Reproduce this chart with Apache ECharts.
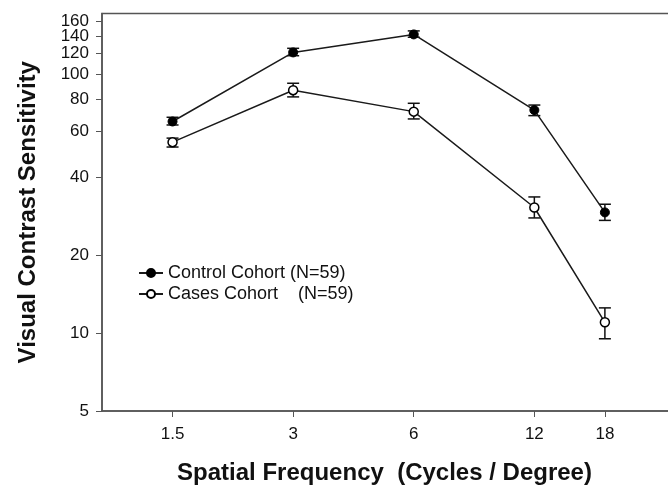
<!DOCTYPE html>
<html>
<head>
<meta charset="utf-8">
<script src="https://cdn.jsdelivr.net/npm/echarts@6/dist/echarts.min.js"></script>
<style>
  html, body { margin: 0; padding: 0; background: #fff; }
  #main { width: 668px; height: 485px; }
</style>
</head>
<body>
<div id="main"></div>
<script>
// data
const freqs = [1.5, 3, 6, 12, 18];
const controlMean = [65.5, 121, 142, 72.5, 29.2];
const controlLow = [63.5, 117.5, 138.5, 69, 27.2];
const controlHigh = [68, 125.5, 146.5, 75.8, 31.4];
const casesMean = [54.5, 86.5, 71.5, 30.5, 11];
const casesLow = [52.2, 81.5, 67, 27.8, 9.5];
const casesHigh = [56.5, 92, 77, 33.5, 12.5];
const yTicks = [5, 10, 20, 40, 60, 80, 100, 120, 140, 160];
const controlName = 'Control Cohort (N=59)';
const casesName = 'Cases Cohort    (N=59)';

const font = 'Liberation Sans, Arial, sans-serif';
const chart = echarts.init(document.getElementById('main'));

function pairs(xs, ys) {
  return xs.map((x, i) => [x, ys[i]]);
}

function errData(lo, hi) {
  return freqs.map((x, i) => [x, lo[i], hi[i]]);
}

// vertical error bar with caps
function renderErr(params, api) {
  const x = api.value(0);
  const lo = api.coord([x, api.value(1)]);
  const hi = api.coord([x, api.value(2)]);
  const half = 6;
  const st = { stroke: '#111', lineWidth: 1.5 };
  return {
    type: 'group',
    children: [
      { type: 'line', shape: { x1: lo[0], y1: lo[1], x2: hi[0], y2: hi[1] }, style: st },
      { type: 'line', shape: { x1: lo[0] - half, y1: lo[1], x2: lo[0] + half, y2: lo[1] }, style: st },
      { type: 'line', shape: { x1: hi[0] - half, y1: hi[1], x2: hi[0] + half, y2: hi[1] }, style: st }
    ]
  };
}

const round = v => String(+(+v).toPrecision(6));

// top labels sit closer than their height, so they are split over two
// identical axes to keep echarts from dropping one as an overlap
const yLabelsA = yTicks.filter((v, i) => i % 2 === 0);
const yLabelsB = yTicks.filter((v, i) => i % 2 === 1);

const yLabelStyle = {
  margin: 13, fontFamily: font, fontSize: 17, color: '#111',
  formatter: round, hideOverlap: false, showMaxLabel: true, showMinLabel: true
};

const option = {
  backgroundColor: '#fff',
  animation: false,
  grid: {
    // the plot runs past the right edge of the picture, like the cropped original
    left: 102, top: 13.5, bottom: 74, width: 603,
    outerBoundsMode: 'none',
    containLabel: false,
    show: true, borderColor: '#555', borderWidth: 1.5
  },
  legend: {
    orient: 'vertical',
    left: 138, top: 264,
    padding: 0,
    itemWidth: 24, itemHeight: 10, itemGap: 3,
    textStyle: { fontFamily: font, fontSize: 18, color: '#111' },
    data: [controlName, casesName]
  },
  xAxis: {
    type: 'log', logBase: 2, min: 1, max: 32,
    name: 'Spatial Frequency  (Cycles / Degree)',
    nameLocation: 'middle', nameGap: 50,
    nameTextStyle: { fontFamily: font, fontSize: 24, fontWeight: 'bold', color: '#111', padding: [0, 38, 0, 0] },
    axisLine: { lineStyle: { color: '#555', width: 1.5 } },
    axisTick: { show: true, length: 6, customValues: freqs, lineStyle: { color: '#555' } },
    axisLabel: { customValues: freqs, margin: 15, fontFamily: font, fontSize: 17, color: '#111', formatter: round, hideOverlap: false },
    splitLine: { show: false }
  },
  yAxis: [
    {
      type: 'log', logBase: 2, min: 5, max: 171,
      name: 'Visual Contrast Sensitivity',
      nameLocation: 'middle', nameGap: 62,
      nameTextStyle: { fontFamily: font, fontSize: 24, fontWeight: 'bold', color: '#111' },
      axisLine: { lineStyle: { color: '#555', width: 1.5 } },
      axisTick: { show: true, length: 6, customValues: yTicks, lineStyle: { color: '#555' } },
      axisLabel: Object.assign({ customValues: yLabelsA }, yLabelStyle),
      splitLine: { show: false }
    },
    {
      type: 'log', logBase: 2, min: 5, max: 171,
      position: 'left', offset: 0,
      axisLine: { show: false },
      axisTick: { show: false },
      axisLabel: Object.assign({ customValues: yLabelsB }, yLabelStyle),
      splitLine: { show: false }
    }
  ],
  series: [
    {
      type: 'custom', renderItem: renderErr, z: 1,
      data: errData(controlLow, controlHigh), silent: true
    },
    {
      type: 'custom', renderItem: renderErr, z: 1,
      data: errData(casesLow, casesHigh), silent: true
    },
    {
      name: controlName, type: 'line', z: 3,
      data: pairs(freqs, controlMean),
      symbol: 'circle', symbolSize: 9,
      itemStyle: { color: '#000', borderColor: '#000', borderWidth: 1 },
      lineStyle: { color: '#1a1a1a', width: 1.5 }
    },
    {
      name: casesName, type: 'line', z: 3,
      data: pairs(freqs, casesMean),
      symbol: 'circle', symbolSize: 9,
      itemStyle: { color: '#fff', borderColor: '#000', borderWidth: 1.5 },
      lineStyle: { color: '#1a1a1a', width: 1.5 }
    }
  ]
};

chart.setOption(option);
</script>
</body>
</html>
